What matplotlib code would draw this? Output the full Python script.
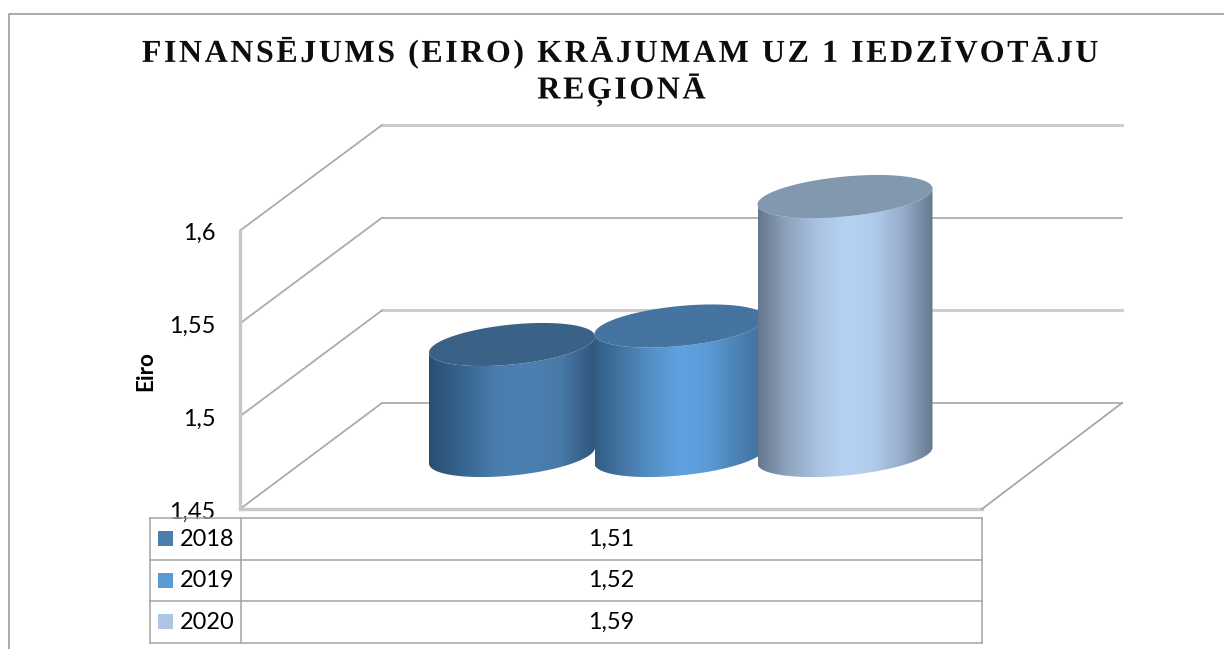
import numpy as np
import matplotlib
matplotlib.use('Agg')
import matplotlib.pyplot as plt
from matplotlib.colors import LinearSegmentedColormap
from matplotlib.font_manager import FontProperties
from matplotlib.patches import Polygon, Rectangle
from matplotlib.path import Path
from matplotlib.patheffects import AbstractPathEffect
from matplotlib.textpath import text_to_path

title_lines = ['FINANSĒJUMS (EIRO) KRĀJUMAM UZ 1 IEDZĪVOTĀJU', 'REĢIONĀ']
years = ['2018', '2019', '2020']
values = [1.51, 1.52, 1.59]
value_labels = ['1,51', '1,52', '1,59']
ticks = [1.45, 1.5, 1.55, 1.6]
tick_labels = ['1,45', '1,5', '1,55', '1,6']
y_label = 'Eiro'

key_colors = ['#4a7eab', '#5b9bd5', '#adc6e5']
top_colors = ['#3a6186', '#44749f', '#8198ae']
side_colors = [
    ['#2b4f72', '#376490', '#4a7dae', '#4c80b2', '#4878a6', '#30567a'],
    ['#325d84', '#4576a6', '#5590c8', '#5fa2e0', '#5a9ad6', '#4c82b4', '#3f6f9c'],
    ['#66788e', '#8fa3bd', '#a9c2e0', '#b6d2f2', '#b0cbea', '#96abc9', '#66788e'],
]

# picture is laid out in pixels, 0,0 top left
fig = plt.figure(figsize=(12.24, 6.49), dpi=100)
ax = fig.add_axes([0, 0, 1, 1])
ax.set_xlim(0, 1224)
ax.set_ylim(649, 0)
ax.axis('off')

plt.rcParams['font.family'] = 'Lato'
px = 72 / 100
text_px = 23.5


class LetterSpacing(AbstractPathEffect):
    # matplotlib has no letter spacing, so move each glyph outline of the text along
    def __init__(self, text, prop, spacing):
        super().__init__()
        font = text_to_path._get_font(prop)
        info = text_to_path.get_glyphs_with_font(font, text)[0]
        self.starts = np.array([g[1] for g in info])
        self.spacing = spacing

    def draw_path(self, renderer, gc, tpath, affine, rgbFace=None):
        verts = tpath.vertices.copy()
        moves = list(np.where(tpath.codes == Path.MOVETO)[0]) + [len(verts)]
        for a, b in zip(moves[:-1], moves[1:]):
            mid = (verts[a:b, 0].min() + verts[a:b, 0].max()) / 2
            idx = np.searchsorted(self.starts, mid) - 1
            verts[a:b, 0] += self.spacing * (idx - (len(self.starts) - 1) / 2)
        renderer.draw_path(gc, Path(verts, tpath.codes), affine, rgbFace)


def front_y(v):
    return 509 - (v - 1.45) * 1856


def back_y(v):
    return 403 - (v - 1.45) * 1853


def cyl_y(v):
    return 455.5 - (v - 1.45) * 1850


# chart frame
ax.plot([9, 9, 1224], [649, 13.5, 13.5], color='#949494', lw=1.1)

# walls and floor, every other gridline is soft in the original
for i, v in enumerate(ticks):
    col, lw = ('#cccccc', 2.2) if i in (1, 3) else ('#a6a6a6', 1.2)
    ax.plot([382, 1122], [back_y(v), back_y(v)], color=col, lw=lw, zorder=1)
    ax.plot([240, 382], [front_y(v), back_y(v)], color='#ababab', lw=1.3, zorder=1)
    ax.text(215.5, front_y(v) + 3, tick_labels[i], ha='right', va='center',
            fontsize=text_px * px, color='black', zorder=5)
ax.plot([240, 240], [front_y(1.6), front_y(1.45)], color='#c8c8c8', lw=2.4, zorder=1)
ax.plot([240, 982], [509, 509], color='#c8c8c8', lw=2.4, zorder=1)
ax.plot([982, 1122], [509, 403], color='#a8a8a8', lw=1.3, zorder=1)


def rim(cx, cy, half, t):
    # sheared ellipse, right side higher than the left
    return cx + half * np.cos(t), cy - 8 * np.cos(t) + 20 * np.sin(t)


def cylinder(cx, half, v, colors, top_col, z):
    t = np.linspace(0, np.pi, 120)
    x1, y1 = rim(cx, cyl_y(1.45), half, t)
    x2, y2 = rim(cx, cyl_y(v), half, t[::-1])
    body = Polygon(np.column_stack([np.r_[x1, x2], np.r_[y1, y2]]), closed=True,
                   transform=ax.transData, fc='none', ec='none', zorder=z)
    ax.add_patch(body)
    cmap = LinearSegmentedColormap.from_list('c', colors)
    grad = np.linspace(0, 1, 256).reshape(1, -1)
    im = ax.imshow(grad, cmap=cmap, extent=[cx - half, cx + half, 490, 150], aspect='auto',
                   zorder=z, interpolation='bilinear')
    im.set_clip_path(body)
    tt = np.linspace(0, 2 * np.pi, 240)
    xt, yt = rim(cx, cyl_y(v), half, tt)
    ax.fill(xt, yt, color=top_col, lw=0, zorder=z + 0.1)


centers = [512, 680, 845]
halves = [83, 85.5, 87.5]
for i in range(3):
    cylinder(centers[i], halves[i], values[i], side_colors[i], top_colors[i], 2 + i)

ax.set_xlim(0, 1224)
ax.set_ylim(649, 0)

# data table under the chart
rows = [518, 559.5, 601, 642.5]
for y in rows:
    ax.plot([150, 982], [y, y], color='#a3a3a3', lw=1.1, zorder=6)
for x in [150, 240.5, 982]:
    ax.plot([x, x], [rows[0], rows[-1]], color='#a3a3a3', lw=1.1, zorder=6)
for i in range(3):
    cy = (rows[i] + rows[i + 1]) / 2
    ax.add_patch(Rectangle((158, cy - 7.5), 15, 15, fc=key_colors[i], ec='none', zorder=7))
    ax.text(180, cy + 0.5, years[i], ha='left', va='center', fontsize=text_px * px,
            color='black', zorder=7)
    ax.text(611, cy + 0.5, value_labels[i], ha='center', va='center', fontsize=text_px * px,
            color='black', zorder=7)

ax.text(146, 371, y_label, rotation=90, ha='center', va='center', fontsize=22.5 * px,
        fontweight='bold', color='black')

title_prop = FontProperties(family='Liberation Serif', weight='bold', size=32 * px)
for line, x, y in zip(title_lines, [620, 621.5], [53, 90]):
    ax.text(x, y, line, ha='center', va='center', fontproperties=title_prop, color='#0d0d0d',
            path_effects=[LetterSpacing(line, title_prop, 8.0)])

fig.savefig('out.png', dpi=100)
